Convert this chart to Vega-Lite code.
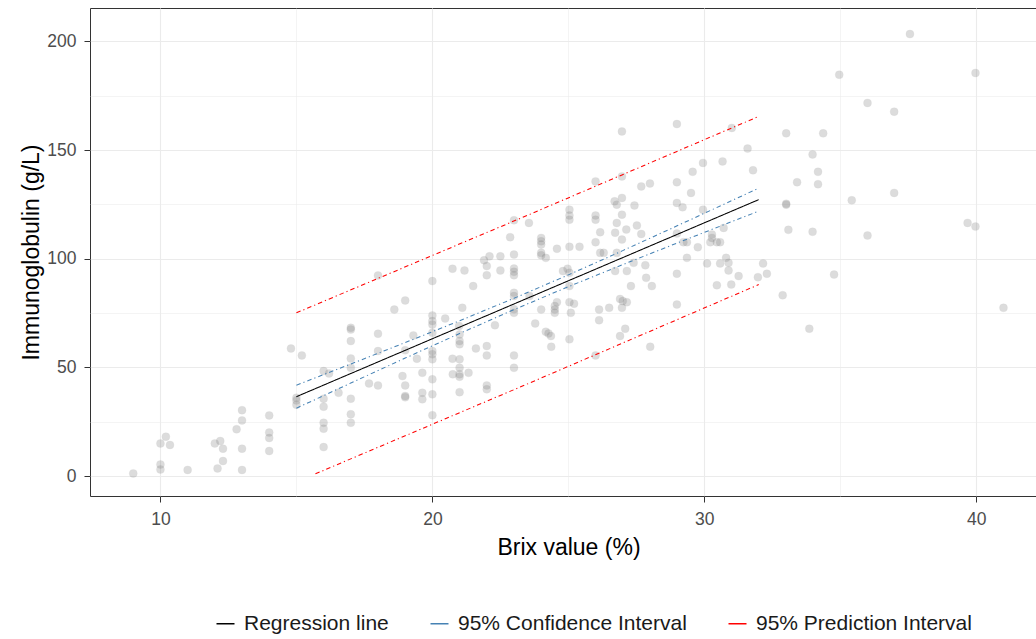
{
  "$schema": "https://vega.github.io/schema/vega-lite/v6.json",
  "width": 957,
  "height": 488,
  "autosize": {"type": "none"},
  "padding": {"left": 90, "top": 8, "right": 0, "bottom": 143},
  "background": "white",
  "config": {
    "view": {"stroke": "#333333", "strokeWidth": 1},
    "font": "Liberation Sans",
    "axis": {
      "domain": false,
      "gridColor": "#ebebeb",
      "tickColor": "#333333",
      "labelColor": "#4d4d4d",
      "labelFontSize": 17.5,
      "titleFontSize": 23,
      "titleFontWeight": "normal",
      "titleColor": "#000000",
      "tickSize": 6
    },
    "legend": {"labelFontSize": 21, "labelColor": "#1a1a1a", "labelLimit": 500, "symbolDash": [1, 0]}
  },
  "datasets": {
    "points": [
      {"brix": 9.0, "igg": 1.2}, {"brix": 10.0, "igg": 15.0}, {"brix": 10.2, "igg": 18.1}, {"brix": 10.35, "igg": 14.3},
      {"brix": 10.0, "igg": 5.3}, {"brix": 10.0, "igg": 3.0}, {"brix": 11.0, "igg": 2.8}, {"brix": 12.0, "igg": 15.0},
      {"brix": 12.2, "igg": 16.1}, {"brix": 12.3, "igg": 12.6}, {"brix": 12.3, "igg": 6.9}, {"brix": 12.1, "igg": 3.5},
      {"brix": 12.8, "igg": 21.5}, {"brix": 13.0, "igg": 30.3}, {"brix": 13.0, "igg": 25.6}, {"brix": 13.0, "igg": 12.6},
      {"brix": 13.0, "igg": 2.8}, {"brix": 14.0, "igg": 27.9}, {"brix": 14.0, "igg": 20.0}, {"brix": 14.0, "igg": 17.5},
      {"brix": 14.0, "igg": 11.5},
      {"brix": 14.8, "igg": 58.7}, {"brix": 15.2, "igg": 55.5}, {"brix": 15.0, "igg": 36.0}, {"brix": 15.0, "igg": 34.8},
      {"brix": 15.0, "igg": 32.8}, {"brix": 16.0, "igg": 48.3}, {"brix": 16.2, "igg": 47.2}, {"brix": 16.0, "igg": 35.6},
      {"brix": 16.0, "igg": 31.9}, {"brix": 16.0, "igg": 24.5}, {"brix": 16.0, "igg": 21.8}, {"brix": 16.0, "igg": 13.3},
      {"brix": 16.55, "igg": 38.3},
      {"brix": 17.0, "igg": 68.2}, {"brix": 17.0, "igg": 67.4}, {"brix": 17.0, "igg": 62.1}, {"brix": 17.0, "igg": 54.1},
      {"brix": 17.0, "igg": 49.8}, {"brix": 17.0, "igg": 35.6}, {"brix": 17.0, "igg": 28.4}, {"brix": 17.0, "igg": 24.5},
      {"brix": 17.67, "igg": 42.6}, {"brix": 18.0, "igg": 65.5}, {"brix": 18.0, "igg": 57.5}, {"brix": 18.0, "igg": 41.7},
      {"brix": 18.0, "igg": 92.3},
      {"brix": 18.6, "igg": 76.6}, {"brix": 19.0, "igg": 80.8}, {"brix": 19.0, "igg": 57.9}, {"brix": 18.9, "igg": 46.0},
      {"brix": 19.0, "igg": 41.7}, {"brix": 19.0, "igg": 36.8}, {"brix": 19.0, "igg": 36.2}, {"brix": 19.3, "igg": 64.7},
      {"brix": 19.43, "igg": 54.0}, {"brix": 19.63, "igg": 47.5}, {"brix": 19.63, "igg": 38.3}, {"brix": 19.63, "igg": 35.3},
      {"brix": 20.0, "igg": 89.7}, {"brix": 20.0, "igg": 73.9}, {"brix": 20.0, "igg": 71.3}, {"brix": 20.0, "igg": 69.7},
      {"brix": 20.0, "igg": 65.9}, {"brix": 20.0, "igg": 57.5}, {"brix": 20.0, "igg": 56.0}, {"brix": 20.0, "igg": 53.7},
      {"brix": 20.0, "igg": 44.5}, {"brix": 20.0, "igg": 37.6}, {"brix": 20.0, "igg": 28.0},
      {"brix": 20.47, "igg": 72.5}, {"brix": 21.1, "igg": 77.4}, {"brix": 20.98, "igg": 69.0}, {"brix": 21.0, "igg": 65.1},
      {"brix": 21.0, "igg": 62.1}, {"brix": 21.0, "igg": 60.6}, {"brix": 20.74, "igg": 54.0}, {"brix": 21.0, "igg": 53.7},
      {"brix": 21.0, "igg": 49.8}, {"brix": 20.75, "igg": 46.8}, {"brix": 21.0, "igg": 46.8}, {"brix": 21.0, "igg": 45.7},
      {"brix": 21.33, "igg": 47.5}, {"brix": 21.0, "igg": 38.6}, {"brix": 21.5, "igg": 87.4}, {"brix": 21.6, "igg": 58.7},
      {"brix": 20.74, "igg": 95.4}, {"brix": 21.18, "igg": 94.6},
      {"brix": 21.9, "igg": 99.3}, {"brix": 22.1, "igg": 101.1}, {"brix": 22.0, "igg": 96.6}, {"brix": 22.0, "igg": 92.4},
      {"brix": 22.0, "igg": 59.8}, {"brix": 22.0, "igg": 55.5}, {"brix": 22.0, "igg": 41.7}, {"brix": 22.0, "igg": 39.9},
      {"brix": 22.3, "igg": 69.4}, {"brix": 22.5, "igg": 101.1}, {"brix": 22.5, "igg": 94.6}, {"brix": 22.86, "igg": 109.9},
      {"brix": 23.0, "igg": 117.7}, {"brix": 23.0, "igg": 101.9}, {"brix": 23.0, "igg": 95.5}, {"brix": 23.0, "igg": 94.0},
      {"brix": 23.0, "igg": 92.4}, {"brix": 23.0, "igg": 84.3}, {"brix": 23.0, "igg": 82.8}, {"brix": 23.0, "igg": 76.8},
      {"brix": 23.0, "igg": 75.1}, {"brix": 23.0, "igg": 55.5}, {"brix": 23.0, "igg": 49.8}, {"brix": 23.55, "igg": 116.5},
      {"brix": 23.57, "igg": 82.8},
      {"brix": 24.0, "igg": 109.6}, {"brix": 24.0, "igg": 108.0}, {"brix": 24.0, "igg": 106.5}, {"brix": 24.0, "igg": 102.7},
      {"brix": 24.0, "igg": 101.6}, {"brix": 24.17, "igg": 100.4}, {"brix": 24.58, "igg": 104.6}, {"brix": 23.78, "igg": 70.2},
      {"brix": 24.0, "igg": 76.6}, {"brix": 24.17, "igg": 66.4}, {"brix": 24.27, "igg": 65.6}, {"brix": 24.36, "igg": 64.4},
      {"brix": 24.37, "igg": 59.5}, {"brix": 24.5, "igg": 78.2}, {"brix": 24.5, "igg": 76.6}, {"brix": 24.5, "igg": 75.1},
      {"brix": 24.58, "igg": 80.0},
      {"brix": 25.04, "igg": 122.6}, {"brix": 25.04, "igg": 119.9}, {"brix": 25.04, "igg": 118.0}, {"brix": 25.04, "igg": 105.5},
      {"brix": 25.41, "igg": 105.5}, {"brix": 24.8, "igg": 94.3}, {"brix": 24.97, "igg": 95.4}, {"brix": 25.04, "igg": 93.5},
      {"brix": 25.04, "igg": 80.0}, {"brix": 25.21, "igg": 79.3}, {"brix": 25.09, "igg": 75.1}, {"brix": 25.04, "igg": 62.9},
      {"brix": 25.04, "igg": 87.4},
      {"brix": 26.0, "igg": 135.6}, {"brix": 26.0, "igg": 119.9}, {"brix": 26.0, "igg": 118.0}, {"brix": 26.0, "igg": 107.6},
      {"brix": 26.17, "igg": 112.2}, {"brix": 26.17, "igg": 102.7}, {"brix": 26.3, "igg": 102.7}, {"brix": 26.0, "igg": 55.5},
      {"brix": 26.13, "igg": 76.6}, {"brix": 26.13, "igg": 71.7}, {"brix": 26.5, "igg": 77.4},
      {"brix": 26.97, "igg": 158.6}, {"brix": 26.7, "igg": 126.4}, {"brix": 26.78, "igg": 124.9}, {"brix": 26.97, "igg": 128.0},
      {"brix": 26.97, "igg": 137.9}, {"brix": 26.97, "igg": 120.3}, {"brix": 26.78, "igg": 116.5}, {"brix": 27.13, "igg": 113.4},
      {"brix": 26.72, "igg": 112.0}, {"brix": 26.97, "igg": 108.8}, {"brix": 26.78, "igg": 102.7}, {"brix": 26.72, "igg": 94.3},
      {"brix": 27.15, "igg": 94.3}, {"brix": 27.3, "igg": 87.4}, {"brix": 27.43, "igg": 124.5}, {"brix": 27.52, "igg": 115.3},
      {"brix": 27.68, "igg": 133.3}, {"brix": 27.68, "igg": 111.4}, {"brix": 27.83, "igg": 97.0}, {"brix": 27.4, "igg": 98.1},
      {"brix": 27.86, "igg": 91.2}, {"brix": 28.07, "igg": 87.4}, {"brix": 26.9, "igg": 81.5}, {"brix": 27.0, "igg": 80.5},
      {"brix": 27.15, "igg": 80.0}, {"brix": 26.97, "igg": 77.4}, {"brix": 27.09, "igg": 67.8}, {"brix": 26.9, "igg": 64.4},
      {"brix": 28.0, "igg": 134.6}, {"brix": 28.01, "igg": 59.5},
      {"brix": 28.99, "igg": 162.0}, {"brix": 28.99, "igg": 135.2}, {"brix": 28.99, "igg": 125.7}, {"brix": 29.2, "igg": 123.7},
      {"brix": 28.99, "igg": 111.6}, {"brix": 29.23, "igg": 107.6}, {"brix": 29.36, "igg": 107.6}, {"brix": 29.36, "igg": 100.4},
      {"brix": 28.99, "igg": 93.1}, {"brix": 28.99, "igg": 78.9}, {"brix": 29.57, "igg": 140.0}, {"brix": 29.51, "igg": 130.3},
      {"brix": 29.76, "igg": 105.3},
      {"brix": 29.95, "igg": 144.1}, {"brix": 29.95, "igg": 122.6}, {"brix": 30.1, "igg": 97.8}, {"brix": 30.28, "igg": 111.1},
      {"brix": 30.28, "igg": 109.6}, {"brix": 30.22, "igg": 107.6}, {"brix": 30.46, "igg": 107.6}, {"brix": 30.58, "igg": 107.6},
      {"brix": 30.46, "igg": 87.8}, {"brix": 30.58, "igg": 97.8}, {"brix": 30.8, "igg": 100.4}, {"brix": 30.89, "igg": 98.1},
      {"brix": 30.67, "igg": 144.8}, {"brix": 30.71, "igg": 114.2}, {"brix": 30.89, "igg": 94.6}, {"brix": 30.99, "igg": 88.1},
      {"brix": 31.01, "igg": 160.2}, {"brix": 31.26, "igg": 92.0}, {"brix": 31.59, "igg": 150.7}, {"brix": 31.79, "igg": 140.7},
      {"brix": 31.97, "igg": 91.5}, {"brix": 32.16, "igg": 97.8}, {"brix": 32.3, "igg": 93.1},
      {"brix": 37.56, "igg": 203.4}, {"brix": 34.96, "igg": 184.7}, {"brix": 39.97, "igg": 185.5}, {"brix": 36.0, "igg": 171.7},
      {"brix": 36.98, "igg": 167.7}, {"brix": 33.01, "igg": 157.7}, {"brix": 34.37, "igg": 157.7}, {"brix": 33.98, "igg": 148.0},
      {"brix": 34.18, "igg": 140.0}, {"brix": 33.41, "igg": 135.2}, {"brix": 34.18, "igg": 134.3}, {"brix": 36.98, "igg": 130.3},
      {"brix": 35.42, "igg": 126.9}, {"brix": 33.01, "igg": 124.9}, {"brix": 33.01, "igg": 125.3}, {"brix": 33.09, "igg": 113.3},
      {"brix": 33.98, "igg": 112.4}, {"brix": 36.0, "igg": 110.7}, {"brix": 39.68, "igg": 116.5}, {"brix": 39.97, "igg": 114.8},
      {"brix": 34.77, "igg": 92.7}, {"brix": 32.88, "igg": 83.2}, {"brix": 41.0, "igg": 77.4}, {"brix": 33.86, "igg": 67.8}
    ],
    "lines": [
      {"series": "Regression line", "bound": "fit", "brix": 15, "igg": 36.5},
      {"series": "Regression line", "bound": "fit", "brix": 32, "igg": 127.2},
      {"series": "95% Confidence Interval", "bound": "upper", "brix": 15, "igg": 41.8},
      {"series": "95% Confidence Interval", "bound": "upper", "brix": 17, "igg": 51.55},
      {"series": "95% Confidence Interval", "bound": "upper", "brix": 19, "igg": 61.41},
      {"series": "95% Confidence Interval", "bound": "upper", "brix": 21, "igg": 71.44},
      {"series": "95% Confidence Interval", "bound": "upper", "brix": 23, "igg": 81.79},
      {"series": "95% Confidence Interval", "bound": "upper", "brix": 25, "igg": 92.57},
      {"series": "95% Confidence Interval", "bound": "upper", "brix": 27, "igg": 103.74},
      {"series": "95% Confidence Interval", "bound": "upper", "brix": 29, "igg": 115.15},
      {"series": "95% Confidence Interval", "bound": "upper", "brix": 31, "igg": 126.69},
      {"series": "95% Confidence Interval", "bound": "upper", "brix": 32, "igg": 132.5},
      {"series": "95% Confidence Interval", "bound": "lower", "brix": 15, "igg": 31.2},
      {"series": "95% Confidence Interval", "bound": "lower", "brix": 17, "igg": 42.79},
      {"series": "95% Confidence Interval", "bound": "lower", "brix": 19, "igg": 54.27},
      {"series": "95% Confidence Interval", "bound": "lower", "brix": 21, "igg": 65.58},
      {"series": "95% Confidence Interval", "bound": "lower", "brix": 23, "igg": 76.57},
      {"series": "95% Confidence Interval", "bound": "lower", "brix": 25, "igg": 87.13},
      {"series": "95% Confidence Interval", "bound": "lower", "brix": 27, "igg": 97.3},
      {"series": "95% Confidence Interval", "bound": "lower", "brix": 29, "igg": 107.23},
      {"series": "95% Confidence Interval", "bound": "lower", "brix": 31, "igg": 117.03},
      {"series": "95% Confidence Interval", "bound": "lower", "brix": 32, "igg": 121.9},
      {"series": "95% Prediction Interval", "bound": "upper", "brix": 15, "igg": 75.1},
      {"series": "95% Prediction Interval", "bound": "upper", "brix": 23.5, "igg": 120.0},
      {"series": "95% Prediction Interval", "bound": "upper", "brix": 32, "igg": 165.5},
      {"series": "95% Prediction Interval", "bound": "lower", "brix": 15.7, "igg": 1.0},
      {"series": "95% Prediction Interval", "bound": "lower", "brix": 23.5, "igg": 42.4},
      {"series": "95% Prediction Interval", "bound": "lower", "brix": 32, "igg": 88.1}
    ]
  },
  "encoding": {
    "x": {
      "field": "brix", "type": "quantitative",
      "scale": {"domain": [7.41, 42.6], "nice": false, "zero": false},
      "axis": {
        "title": "Brix value (%)",
        "values": [10, 15, 20, 25, 30, 35, 40],
        "labelExpr": "datum.value % 10 === 0 ? datum.label : ''",
        "gridWidth": {"condition": {"test": "datum.value % 10 === 0", "value": 1.1}, "value": 0.55},
        "tickOpacity": {"condition": {"test": "datum.value % 10 === 0", "value": 1}, "value": 0},
        "labelPadding": 8,
        "titlePadding": 9,
        "labelFlush": false
      }
    },
    "y": {
      "field": "igg", "type": "quantitative",
      "scale": {"domain": [-9.2, 215.4], "nice": false, "zero": false},
      "axis": {
        "title": "Immunoglobulin (g/L)",
        "values": [0, 25, 50, 75, 100, 125, 150, 175, 200],
        "labelExpr": "datum.value % 50 === 0 ? datum.label : ''",
        "gridWidth": {"condition": {"test": "datum.value % 50 === 0", "value": 1.1}, "value": 0.55},
        "tickOpacity": {"condition": {"test": "datum.value % 50 === 0", "value": 1}, "value": 0},
        "labelPadding": 8,
        "titlePadding": 3,
        "labelFlush": false
      }
    }
  },
  "layer": [
    {
      "data": {"name": "points"},
      "mark": {"type": "circle", "size": 64, "color": "#7f7f7f", "opacity": 0.27, "stroke": "#555555", "strokeWidth": 0.7, "strokeOpacity": 0.3}
    },
    {
      "data": {"name": "lines"},
      "mark": {"type": "line", "strokeWidth": 1.05},
      "encoding": {
        "detail": {"field": "bound", "type": "nominal"},
        "strokeDash": {
          "field": "bound", "type": "nominal",
          "scale": {"domain": ["fit", "upper", "lower"], "range": [[1, 0], [4.5, 3, 1.2, 3], [4.5, 3, 1.2, 3]]},
          "legend": null
        },
        "color": {
          "field": "series", "type": "nominal",
          "scale": {"domain": ["Regression line", "95% Confidence Interval", "95% Prediction Interval"], "range": ["#000000", "#4682B4", "#FF0000"]},
          "legend": {
            "title": null, "orient": "none", "direction": "horizontal",
            "legendX": 125, "legendY": 605,
            "symbolType": "stroke", "symbolSize": 324, "symbolStrokeWidth": 1.6,
            "symbolDash": [1, 0],
            "columnPadding": 38, "labelOffset": 8,
            "encode": {"symbols": {"update": {"strokeDash": {"value": [1, 0]}}}}
          }
        }
      }
    }
  ]
}
